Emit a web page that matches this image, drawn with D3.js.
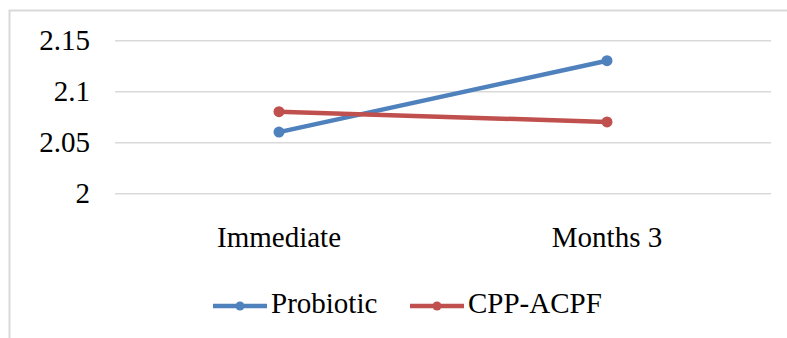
<!DOCTYPE html>
<html>
  <head>
    <meta charset="UTF-8" />
    <title>Probiotic vs CPP-ACPF</title>
    <script src="https://d3js.org/d3.v7.min.js"></script>
    <style>
      body {
        margin: 0;
        background-color: #fff;
      }
      svg {
        display: block;
        font-family: "Liberation Serif", "Times New Roman", serif;
      }
      .tick text,
      .legend text {
        font-family: "Liberation Serif", "Times New Roman", serif;
        font-size: 29px;
        fill: #000;
      }
    </style>
  </head>
  <body>
    <div id="chart"></div>
    <script>
      const categories = ["Immediate", "Months 3"];
      const seriesNames = ["Probiotic", "CPP-ACPF"];
      const probiotic = [2.06, 2.13];
      const cppAcpf = [2.08, 2.07];
      const yTicks = [2, 2.05, 2.1, 2.15];
      const colors = ["#4f81bd", "#c0504d"];

      const width = 787;
      const height = 338;
      const margin = { left: 115, right: 16, top: 40.3, bottom: 144.7 };

      const series = [
        { name: seriesNames[0], values: probiotic, color: colors[0] },
        { name: seriesNames[1], values: cppAcpf, color: colors[1] },
      ];

      const svg = d3
        .select("#chart")
        .append("svg")
        .attr("width", width)
        .attr("height", height);

      // chart frame
      svg
        .append("rect")
        .attr("x", 9.5)
        .attr("y", 10.5)
        .attr("width", 900)
        .attr("height", 500)
        .attr("fill", "#fff")
        .attr("stroke", "#d9d9d9")
        .attr("stroke-width", 2);

      const x = d3
        .scaleBand()
        .domain(categories)
        .range([margin.left, width - margin.right])
        .padding(0);

      const y = d3
        .scaleLinear()
        .domain([2, 2.15])
        .range([height - margin.bottom, margin.top]);

      const plotW = width - margin.right - margin.left;

      const yAxis = svg
        .append("g")
        .attr("transform", `translate(${margin.left},0)`)
        .call(
          d3
            .axisLeft(y)
            .tickValues(yTicks)
            .tickFormat((d) => d3.format("")(+d.toFixed(2)))
            .tickSize(-plotW)
            .tickPadding(25)
        )
        .attr("font-family", null)
        .attr("font-size", null);
      yAxis.select(".domain").remove();
      yAxis.selectAll(".tick line").attr("stroke", "#d9d9d9").attr("stroke-width", 1.5);
      yAxis.selectAll(".tick text").attr("dy", "0.33em");

      const xAxis = svg
        .append("g")
        .attr("transform", `translate(0,${height - margin.bottom})`)
        .call(d3.axisBottom(x).tickSize(0).tickPadding(33))
        .attr("font-family", null)
        .attr("font-size", null);
      xAxis.select(".domain").remove();

      const cx = (c) => x(c) + x.bandwidth() / 2;

      const line = d3
        .line()
        .x((d, i) => cx(categories[i]))
        .y((d) => y(d));

      const lines = svg.append("g").selectAll("g").data(series).enter().append("g");

      lines
        .append("path")
        .attr("d", (d) => line(d.values))
        .attr("fill", "none")
        .attr("stroke", (d) => d.color)
        .attr("stroke-width", 4.5);

      lines
        .selectAll("circle")
        .data((d) => d.values.map((v, i) => ({ v: v, i: i, color: d.color })))
        .enter()
        .append("circle")
        .attr("cx", (d) => cx(categories[d.i]))
        .attr("cy", (d) => y(d.v))
        .attr("r", 5.5)
        .attr("fill", (d) => d.color);

      // legend
      const legendX = [213, 410];
      const legendY = 306;
      const legend = svg
        .append("g")
        .attr("class", "legend")
        .selectAll("g")
        .data(series)
        .enter()
        .append("g")
        .attr("transform", (d, i) => `translate(${legendX[i]},${legendY})`);

      legend
        .append("line")
        .attr("x1", 0)
        .attr("x2", 54)
        .attr("stroke", (d) => d.color)
        .attr("stroke-width", 4.5);

      legend
        .append("circle")
        .attr("cx", 27)
        .attr("r", 4.5)
        .attr("fill", (d) => d.color);

      legend
        .append("text")
        .attr("x", 58)
        .attr("y", 7)
        .text((d) => d.name);
    </script>
  </body>
</html>
